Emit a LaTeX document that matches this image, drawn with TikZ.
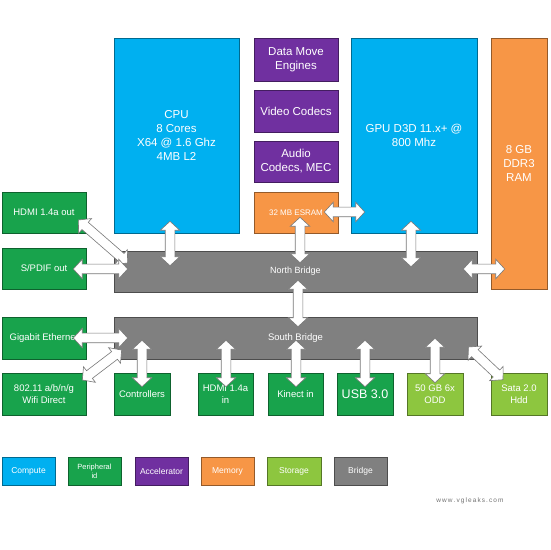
\documentclass[tikz,border=0pt]{standalone}
\usepackage{fontspec}
\setmainfont{Liberation Sans}
\usetikzlibrary{shapes.arrows,calc}
\definecolor{compute}{RGB}{0,176,240}
\definecolor{periph}{RGB}{24,163,76}
\definecolor{accel}{RGB}{112,48,160}
\definecolor{memory}{RGB}{247,150,70}
\definecolor{storage}{RGB}{141,198,63}
\definecolor{bridge}{RGB}{128,128,128}
\definecolor{arrowgray}{RGB}{120,120,120}
\tikzset{
  box/.style={draw=#1!60!black, fill=#1, line width=0.6pt, text=white,
    inner sep=1pt, align=center, anchor=center},
  bigtxt/.style={font=\fontsize{11.5}{14}\selectfont},
  midtxt/.style={font=\fontsize{9.5}{12}\selectfont},
  smalltxt/.style={font=\fontsize{8.5}{10}\selectfont},
  dblarrow/.style={double arrow, draw=arrowgray, fill=white, line width=0.6pt,
    inner xsep=0pt, inner ysep=4.5pt, minimum width=19pt,
    double arrow head extend=5pt, double arrow tip angle=95},
  barrow/.style={to path={
    let \p1=(\tikztostart), \p2=(\tikztotarget),
        \n1={veclen(\x2-\x1,\y2-\y1)}, \n2={atan2(\y2-\y1,\x2-\x1)} in
    node[dblarrow, minimum height=\n1, rotate=\n2] at ($(\p1)!0.5!(\p2)$) {}
  }}
}
\begin{document}
\begin{tikzpicture}[x=1pt,y=1pt]
\useasboundingbox[fill=white] (0,0) rectangle (550,550);
% top row
\node[box=compute, bigtxt, minimum width=125pt, minimum height=195pt] (cpu) at (176.5,414.5) {CPU\\8 Cores\\X64 @ 1.6 Ghz\\4MB L2};
\node[box=accel, bigtxt, minimum width=84pt, minimum height=43pt] (dme) at (296,490.5) {Data Move\\Engines};
\node[box=accel, bigtxt, minimum width=84pt, minimum height=42pt] (vid) at (296,439) {Video Codecs};
\node[box=accel, bigtxt, minimum width=84pt, minimum height=41pt] (aud) at (296,388.5) {Audio\\Codecs, MEC};
\node[box=memory, font=\fontsize{8}{9}\selectfont, minimum width=84pt, minimum height=41pt] (esram) at (296,337.5) {32 MB ESRAM};
\node[box=compute, bigtxt, minimum width=126pt, minimum height=195pt] (gpu) at (414,414.5) {GPU D3D 11.x+ @\\800 Mhz};
\node[box=memory, bigtxt, minimum width=56pt, minimum height=251pt] (ram) at (519,386.5) {8 GB\\DDR3\\RAM};
% bridges
\node[box=bridge, font=\fontsize{9}{11}\selectfont, minimum width=363pt, minimum height=41pt] (nb) at (295.5,278.5) {North Bridge};
\node[box=bridge, font=\fontsize{9.5}{11}\selectfont, minimum width=363pt, minimum height=42pt] (sb) at (295.5,212) {South Bridge};
% left peripherals
\node[box=periph, midtxt, minimum width=84pt, minimum height=41pt] (hdmiout) at (44,337.5) {HDMI 1.4a out};
\node[box=periph, midtxt, minimum width=84pt, minimum height=41pt] (spdif) at (44,281.5) {S/PDIF out};
\node[box=periph, midtxt, minimum width=84pt, minimum height=42pt] (geth) at (44,212) {Gigabit Ethernet};
\node[box=periph, midtxt, minimum width=84pt, minimum height=42pt] (wifi) at (44,156) {802.11 a/b/n/g\\Wifi Direct};
% bottom row
\node[box=periph, midtxt, minimum width=56pt, minimum height=42pt] (ctrl) at (142,156) {Controllers};
\node[box=periph, midtxt, minimum width=55pt, minimum height=42pt] (hdmiin) at (225.5,156) {HDMI 1.4a\\in};
\node[box=periph, midtxt, minimum width=55pt, minimum height=42pt] (kinect) at (295.5,156) {Kinect in};
\node[box=periph, font=\fontsize{12.5}{14}\selectfont, minimum width=56pt, minimum height=42pt] (usb) at (365,156) {USB 3.0};
\node[box=storage, midtxt, minimum width=56pt, minimum height=42pt] (odd) at (435,156) {50 GB 6x\\ODD};
\node[box=storage, midtxt, minimum width=56pt, minimum height=42pt] (sata) at (519,156) {Sata 2.0\\Hdd};
% legend
\node[box=compute, smalltxt, minimum width=53pt, minimum height=28pt] (lcomp) at (28.5,79) {Compute};
\node[box=periph, font=\fontsize{7.5}{9}\selectfont, minimum width=53pt, minimum height=28pt] (lper) at (94.5,79) {Peripheral\\id};
\node[box=accel, smalltxt, minimum width=53pt, minimum height=28pt] (lacc) at (161.5,79) {Accelerator};
\node[box=memory, smalltxt, minimum width=53pt, minimum height=28pt] (lmem) at (227.5,79) {Memory};
\node[box=storage, smalltxt, minimum width=54pt, minimum height=28pt] (lsto) at (294,79) {Storage};
\node[box=bridge, smalltxt, minimum width=53pt, minimum height=28pt] (lbri) at (360.5,79) {Bridge};
\node[text=black!55, font=\fontsize{6.5}{7}\selectfont] (web) at (470,49) {w\,w\,w\,.\,v\,g\,l\,e\,a\,k\,s\,.\,c\,o\,m};
% arrows
\path[barrow] ($(cpu.south)+(-6.5,12)$) to ($(nb.north)+(-125.5,-15)$);
\path[barrow] ($(esram.south)+(4,16)$) to ($(nb.north)+(4.5,-12)$);
\path[barrow] ($(esram.east)+(-14,0.5)$) to ($(gpu.west)+(14,-76.5)$);
\path[barrow] ($(gpu.south)+(-3,12)$) to ($(nb.north)+(115.5,-16)$);
\path[barrow] ($(nb.east)+(-14,2.5)$) to ($(ram.west)+(14,-105.5)$);
\path[barrow] ($(hdmiout.east)+(-8,-7.5)$) to ($(nb.west)+(14,8.5)$);
\path[barrow] ($(spdif.east)+(-13,-0.5)$) to ($(nb.west)+(14,2.5)$);
\path[barrow] ($(nb.south)+(2.5,12)$) to ($(sb.north)+(2.5,-10)$);
\path[barrow] ($(geth.east)+(-13,0)$) to ($(sb.west)+(14,0)$);
\path[barrow] ($(wifi.east)+(-4,14)$) to ($(sb.west)+(8,-12)$);
\path[barrow] ($(sb.south)+(-153.5,19)$) to ($(ctrl.north)+(0,-14)$);
\path[barrow] ($(sb.south)+(-69.5,19)$) to ($(hdmiin.north)+(0.5,-14)$);
\path[barrow] ($(sb.south)+(0.5,19)$) to ($(kinect.north)+(0.5,-14)$);
\path[barrow] ($(sb.south)+(69.5,19)$) to ($(usb.north)+(0,-14)$);
\path[barrow] ($(sb.south)+(139.5,21)$) to ($(odd.north)+(0,-10)$);
\path[barrow] ($(sb.east)+(-9,-9)$) to ($(sata.north)+(-16,-7)$);
\end{tikzpicture}
\end{document}
